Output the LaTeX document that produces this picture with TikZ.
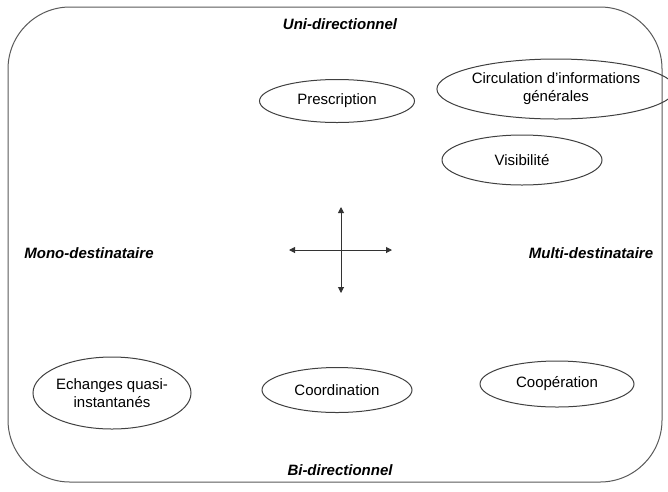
\documentclass[tikz,border=0pt]{standalone}
\usepackage{fontspec}
\setmainfont{Liberation Sans}
\usetikzlibrary{shapes.geometric,arrows.meta}
\begin{document}
\begin{tikzpicture}[x=1pt,y=-1pt,
  oval/.style={draw=black!75,line width=1pt,ellipse,inner sep=0pt,align=center,font=\fontsize{15}{18}\selectfont},
  axislabel/.style={font=\fontsize{15}{18}\selectfont\bfseries\itshape},
  axis/.style={draw=black!80,line width=1pt,{Triangle[width=6pt,length=6pt]}-{Triangle[width=6pt,length=6pt]}}]
\useasboundingbox (0,0) rectangle (668,491);
\draw[black!65,line width=1pt,rounded corners=62pt] (8,7) rectangle (662,482);
\node[axislabel] (uni) at (340,24) {Uni-directionnel};
\node[axislabel] (bi) at (340,470) {Bi-directionnel};
\node[axislabel] (mono) at (89,253) {Mono-destinataire};
\node[axislabel] (multi) at (591,253) {Multi-destinataire};
\node[oval,minimum width=155pt,minimum height=43pt] (presc) at (337,101) {Prescription};
\node[oval,minimum width=192pt,minimum height=60pt] (circ) at (556,89) {Circulation d'informations\\générales};
\node[oval,minimum width=160pt,minimum height=50pt] (vis) at (522,160) {Visibilité};
\node[oval,minimum width=150pt,minimum height=72pt] (ech) at (112,393) {Echanges quasi-\\instantanés};
\node[oval,minimum width=150pt,minimum height=45pt] (coord) at (337,390) {Coordination};
\node[oval,minimum width=154pt,minimum height=46pt] (coop) at (557,384) {Coopération};
\coordinate (l) at (289,250);
\coordinate (r) at (392,250);
\coordinate (t) at (341,207);
\coordinate (b) at (341,293);
\draw[axis] (l) -- (r);
\draw[axis] (t) -- (b);
\end{tikzpicture}
\end{document}
